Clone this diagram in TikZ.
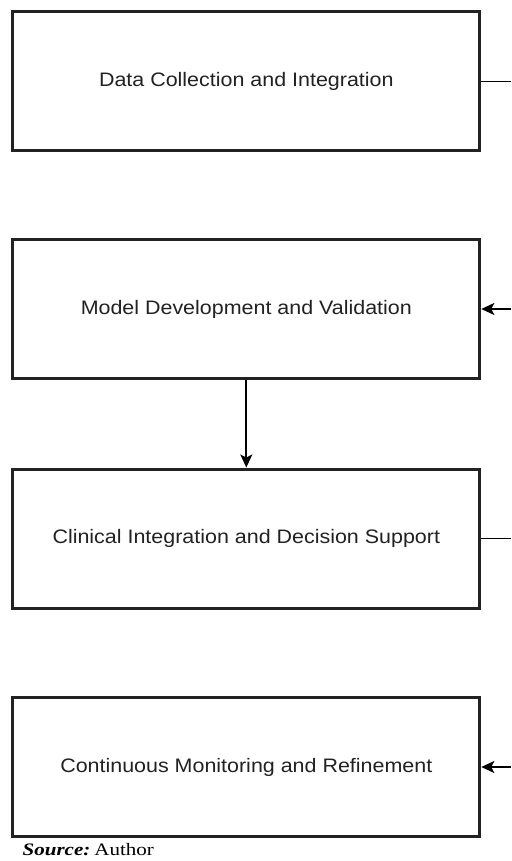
\documentclass[tikz,border=0pt]{standalone}
\usepackage{fontspec}
\setmainfont{Liberation Serif}
\newfontfamily\boxfont[FakeStretch=1.1]{Liberation Sans}
\newfontfamily\srcfont[FakeStretch=1.2]{Liberation Serif}
\usetikzlibrary{arrows.meta}
\definecolor{ink}{RGB}{34,34,34}
\begin{document}
\begin{tikzpicture}[x=1pt,y=-1pt,
  stagebox/.style={draw=ink, line width=3pt, fill=white, minimum width=467pt, minimum height=139pt, inner sep=0pt, text=ink, font=\boxfont\fontsize{19.5pt}{23pt}\selectfont},
  conn/.style={draw=black, line width=1.8pt},
  arr/.style={conn, -{Stealth[length=13pt,width=12pt,inset=3pt]}}]
\useasboundingbox (0,0) rectangle (511,861);
\node[stagebox] (b1) at (246.3,81.5) {Data Collection and Integration};
\node[stagebox] (b2) at (246.3,309) {Model Development and Validation};
\node[stagebox] (b3) at (246.3,538.5) {Clinical Integration and Decision Support};
\node[stagebox] (b4) at (246.3,767) {Continuous Monitoring and Refinement};
\coordinate (e1) at (511,81.5);
\coordinate (e2) at (511,309);
\coordinate (e3) at (511,538.5);
\coordinate (e4) at (511,767);
\draw[conn] (b1.east) -- (e1);
\draw[arr] (e2) -- (b2.east);
\draw[arr] (b2.south) -- (b3.north);
\draw[conn] (b3.east) -- (e3);
\draw[arr] (e4) -- (b4.east);
\node[anchor=base west, inner sep=0pt, font=\srcfont\fontsize{17.5pt}{20pt}\selectfont] (src) at (22.5,855) {\textbf{\textit{Source:}}\hspace{4pt}Author};
\end{tikzpicture}
\end{document}
